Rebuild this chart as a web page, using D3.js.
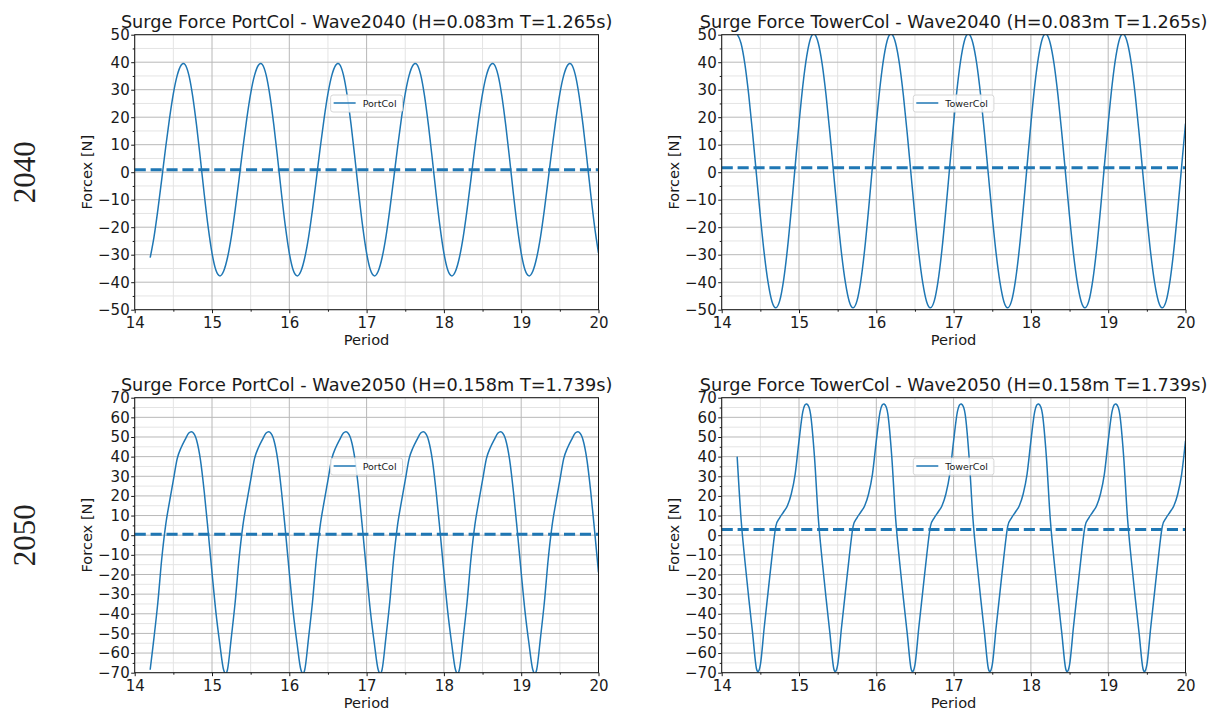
<!DOCTYPE html>
<html>
<head>
<meta charset="utf-8">
<script src="https://cdn.jsdelivr.net/npm/d3@7"></script>
<style>
  body { margin:0; background:#fff; }
  text { font-family:'DejaVu Sans', sans-serif; fill:#1a1a1a; }
  .tick line { stroke:#1a1a1a; }
</style>
</head>
<body>
<div id="canvas"></div>
<script>
// sample times (Period), shared by the four runs
var period = [
  14.2,14.25,14.3,14.35,14.4,14.45,14.5,14.55,14.6,14.65,14.7,14.75,14.8,14.85,14.9,14.95,15,15.05,15.1,15.15,
  15.2,15.25,15.3,15.35,15.4,15.45,15.5,15.55,15.6,15.65,15.7,15.75,15.8,15.85,15.9,15.95,16,16.05,16.1,16.15,
  16.2,16.25,16.3,16.35,16.4,16.45,16.5,16.55,16.6,16.65,16.7,16.75,16.8,16.85,16.9,16.95,17,17.05,17.1,17.15,
  17.2,17.25,17.3,17.35,17.4,17.45,17.5,17.55,17.6,17.65,17.7,17.75,17.8,17.85,17.9,17.95,18,18.05,18.1,18.15,
  18.2,18.25,18.3,18.35,18.4,18.45,18.5,18.55,18.6,18.65,18.7,18.75,18.8,18.85,18.9,18.95,19,19.05,19.1,19.15,
  19.2,19.25,19.3,19.35,19.4,19.45,19.5,19.55,19.6,19.65,19.7,19.75,19.8,19.85,19.9,19.95,20
];

// surge force [N]
var portCol2040 = [
  -31.1,-23.5,-13.6,-2.5,8.9,19.5,28.6,35.2,38.9,39.2,35.4,27.7,17.1,4.8,-8.1,-19.9,-29.4,-35.6,-37.7,-36.0,
  -31.1,-23.5,-13.6,-2.5,8.9,19.5,28.6,35.2,38.9,39.2,35.4,27.7,17.1,4.8,-8.1,-19.9,-29.4,-35.6,-37.7,-36.0,
  -31.1,-23.5,-13.6,-2.5,8.9,19.5,28.6,35.2,38.9,39.2,35.4,27.7,17.1,4.8,-8.1,-19.9,-29.4,-35.6,-37.7,-36.0,
  -31.1,-23.5,-13.6,-2.5,8.9,19.5,28.6,35.2,38.9,39.2,35.4,27.7,17.1,4.8,-8.1,-19.9,-29.4,-35.6,-37.7,-36.0,
  -31.1,-23.5,-13.6,-2.5,8.9,19.5,28.6,35.2,38.9,39.2,35.4,27.7,17.1,4.8,-8.1,-19.9,-29.4,-35.6,-37.7,-36.0,
  -31.1,-23.5,-13.6,-2.5,8.9,19.5,28.6,35.2,38.9,39.2,35.4,27.7,17.1,4.8,-8.1,-19.9,-29.4
];
var towerCol2040 = [
  50.2,46.9,39.3,28.0,14.1,-1.0,-16.0,-29.5,-40.1,-47.0,-49.3,-46.8,-39.4,-28.0,-13.6,2.1,17.7,31.6,42.2,48.7,
  50.2,46.9,39.3,28.0,14.1,-1.0,-16.0,-29.5,-40.1,-47.0,-49.3,-46.8,-39.4,-28.0,-13.6,2.1,17.7,31.6,42.2,48.7,
  50.2,46.9,39.3,28.0,14.1,-1.0,-16.0,-29.5,-40.1,-47.0,-49.3,-46.8,-39.4,-28.0,-13.6,2.1,17.7,31.6,42.2,48.7,
  50.2,46.9,39.3,28.0,14.1,-1.0,-16.0,-29.5,-40.1,-47.0,-49.3,-46.8,-39.4,-28.0,-13.6,2.1,17.7,31.6,42.2,48.7,
  50.2,46.9,39.3,28.0,14.1,-1.0,-16.0,-29.5,-40.1,-47.0,-49.3,-46.8,-39.4,-28.0,-13.6,2.1,17.7,31.6,42.2,48.7,
  50.2,46.9,39.3,28.0,14.1,-1.0,-16.0,-29.5,-40.1,-47.0,-49.3,-46.8,-39.4,-28.0,-13.6,2.1,17.7
];
var portCol2050 = [
  -68.5,-52,-34,-12,5,17,28,39,44.5,48.5,52,52.4,48.5,38.5,22,2,-19,-39,-55,-68.5,
  -68.5,-52,-34,-12,5,17,28,39,44.5,48.5,52,52.4,48.5,38.5,22,2,-19,-39,-55,-68.5,
  -68.5,-52,-34,-12,5,17,28,39,44.5,48.5,52,52.4,48.5,38.5,22,2,-19,-39,-55,-68.5,
  -68.5,-52,-34,-12,5,17,28,39,44.5,48.5,52,52.4,48.5,38.5,22,2,-19,-39,-55,-68.5,
  -68.5,-52,-34,-12,5,17,28,39,44.5,48.5,52,52.4,48.5,38.5,22,2,-19,-39,-55,-68.5,
  -68.5,-52,-34,-12,5,17,28,39,44.5,48.5,52,52.4,48.5,38.5,22,2,-19
];
var towerCol2050 = [
  40,8.5,-13,-32,-50,-68,-66,-47,-29,-11,4.5,8.8,11.8,15,21,31,48,63,66.8,61.5,
  40,8.5,-13,-32,-50,-68,-66,-47,-29,-11,4.5,8.8,11.8,15,21,31,48,63,66.8,61.5,
  40,8.5,-13,-32,-50,-68,-66,-47,-29,-11,4.5,8.8,11.8,15,21,31,48,63,66.8,61.5,
  40,8.5,-13,-32,-50,-68,-66,-47,-29,-11,4.5,8.8,11.8,15,21,31,48,63,66.8,61.5,
  40,8.5,-13,-32,-50,-68,-66,-47,-29,-11,4.5,8.8,11.8,15,21,31,48,63,66.8,61.5,
  40,8.5,-13,-32,-50,-68,-66,-47,-29,-11,4.5,8.8,11.8,15,21,31,48
];

// mean force of each run (dashed line)
var meanForce = [0.9, 1.6, 0.5, 2.9];

var titles = [
  'Surge Force PortCol - Wave2040 (H=0.083m T=1.265s)',
  'Surge Force TowerCol - Wave2040 (H=0.083m T=1.265s)',
  'Surge Force PortCol - Wave2050 (H=0.158m T=1.739s)',
  'Surge Force TowerCol - Wave2050 (H=0.158m T=1.739s)'
];
var legendNames = ['PortCol', 'TowerCol', 'PortCol', 'TowerCol'];
var rowLabels = ['2040', '2050'];

var xTicks = [14, 15, 16, 17, 18, 19, 20];
var xMinor = [14.5, 15.5, 16.5, 17.5, 18.5, 19.5];
var yTicks40 = [-50, -40, -30, -20, -10, 0, 10, 20, 30, 40, 50];
var yMinor40 = [-45, -35, -25, -15, -5, 5, 15, 25, 35, 45];
var yTicks50 = [-70, -60, -50, -40, -30, -20, -10, 0, 10, 20, 30, 40, 50, 60, 70];
var yMinor50 = [-65, -55, -45, -35, -25, -15, -5, 5, 15, 25, 35, 45, 55, 65];

var series = [portCol2040, towerCol2040, portCol2050, towerCol2050];

//layout of the 2x2 grid
var colX = [134.7, 721.7], plotW = 463.8;
var rowY = [34.7, 397.7], plotH = 275;
var blue = '#1f77b4';

var svg = d3.select('#canvas')
  .append('svg')
  .attr('width', 1218)
  .attr('height', 711);

// row labels on the far left
rowLabels.forEach(function(lab, r){
  svg.append('text')
    .attr('transform', 'translate(24,' + (rowY[r] + plotH / 2) + ') rotate(-90)')
    .attr('text-anchor', 'middle')
    .attr('dominant-baseline', 'central')
    .style('font-family', "'Liberation Serif', 'DejaVu Serif', serif")
    .style('font-size', '31px')
    .style('fill', '#222')
    .text(lab);
});

series.forEach(function(vals, i){
  var r = Math.floor(i / 2), c = i % 2;
  var yMax = r === 0 ? 50 : 70;
  var yTicks = r === 0 ? yTicks40 : yTicks50;
  var yMinor = r === 0 ? yMinor40 : yMinor50;

  var scaleX = d3.scaleLinear().domain([14, 20]).range([0, plotW]);
  var scaleY = d3.scaleLinear().domain([-yMax, yMax]).range([plotH, 0]);

  var plot = svg.append('g')
    .attr('transform', 'translate(' + colX[c] + ',' + rowY[r] + ')');

  plot.append('clipPath').attr('id', 'clip' + i)
    .append('rect').attr('width', plotW).attr('height', plotH);

  //grid, minor first
  plot.selectAll('.hminor').data(yMinor).enter().append('line')
    .attr('x1', 0).attr('x2', plotW)
    .attr('y1', function(d){ return scaleY(d); })
    .attr('y2', function(d){ return scaleY(d); })
    .style('stroke', '#e4e4e4').style('stroke-width', 1);
  plot.selectAll('.vminor').data(xMinor).enter().append('line')
    .attr('y1', 0).attr('y2', plotH)
    .attr('x1', function(d){ return scaleX(d); })
    .attr('x2', function(d){ return scaleX(d); })
    .style('stroke', '#e4e4e4').style('stroke-width', 1);
  plot.selectAll('.hmajor').data(yTicks).enter().append('line')
    .attr('x1', 0).attr('x2', plotW)
    .attr('y1', function(d){ return scaleY(d); })
    .attr('y2', function(d){ return scaleY(d); })
    .style('stroke', '#b8b8b8').style('stroke-width', 1);
  plot.selectAll('.vmajor').data(xTicks).enter().append('line')
    .attr('y1', 0).attr('y2', plotH)
    .attr('x1', function(d){ return scaleX(d); })
    .attr('x2', function(d){ return scaleX(d); })
    .style('stroke', '#b8b8b8').style('stroke-width', 1);

  //force line (uniform catmull-rom through the read points)
  var line = d3.line()
    .x(function(d, k){ return scaleX(period[k]); })
    .y(function(d){ return scaleY(d); })
    .curve(d3.curveCatmullRom.alpha(0));

  plot.append('path')
    .datum(vals)
    .attr('clip-path', 'url(#clip' + i + ')')
    .attr('d', line)
    .style('fill', 'none')
    .style('stroke', blue)
    .style('stroke-width', 1.5);

  //mean line
  plot.append('line')
    .attr('x1', scaleX(14)).attr('x2', scaleX(20))
    .attr('y1', scaleY(meanForce[i])).attr('y2', scaleY(meanForce[i]))
    .style('stroke', blue)
    .style('stroke-width', 3)
    .style('stroke-dasharray', '11.1,4.8');

  //axes
  var axisX = d3.axisBottom(scaleX).tickValues(xTicks).tickSize(3.5).tickPadding(4)
    .tickFormat(d3.format('d'));
  plot.append('g').attr('class', 'xAxis')
    .attr('transform', 'translate(0,' + plotH + ')')
    .call(axisX);
  plot.append('g')
    .attr('transform', 'translate(0,' + plotH + ')')
    .call(d3.axisBottom(scaleX).tickValues(xMinor).tickSize(2).tickFormat(''));

  var axisY = d3.axisLeft(scaleY).tickValues(yTicks).tickSize(3.5).tickPadding(1.5)
    .tickFormat(d3.format('d'));
  plot.append('g').attr('class', 'yAxis').call(axisY);
  plot.append('g')
    .call(d3.axisLeft(scaleY).tickValues(yMinor).tickSize(2).tickFormat(''));

  plot.selectAll('.domain').remove();
  plot.selectAll('.tick text')
    .style('font-family', "'DejaVu Sans', sans-serif")
    .style('font-size', '15px')
    .style('fill', '#1a1a1a');

  //frame
  plot.append('rect')
    .attr('width', plotW).attr('height', plotH)
    .style('fill', 'none').style('stroke', '#1a1a1a').style('stroke-width', 1);

  //legend
  var leg = plot.append('g');
  var legBox = leg.append('rect');
  var legText = leg.append('text')
    .attr('x', 32).attr('y', 8.5)
    .attr('dominant-baseline', 'central')
    .style('font-size', '9.5px')
    .text(legendNames[i]);
  var tw = legText.node().getComputedTextLength();
  var bw = 32 + tw + 6;
  legBox.attr('width', bw).attr('height', 17).attr('rx', 2.5)
    .style('fill', '#fff').style('fill-opacity', 0.85)
    .style('stroke', '#d6d6d6').style('stroke-width', 1);
  leg.append('line')
    .attr('x1', 3).attr('x2', 25).attr('y1', 8).attr('y2', 8)
    .style('stroke', blue).style('stroke-width', 1.5);
  leg.attr('transform', 'translate(' + (plotW / 2 - bw / 2) + ',60.3)');

  //title and labels
  plot.append('text')
    .attr('x', plotW / 2).attr('y', -6.5)
    .attr('text-anchor', 'middle')
    .style('font-size', '17.7px')
    .text(titles[i]);

  plot.append('text')
    .attr('x', plotW / 2).attr('y', plotH + 35)
    .attr('text-anchor', 'middle')
    .style('font-size', '14.6px')
    .text('Period');

  plot.append('text')
    .attr('transform', 'translate(-48,' + plotH / 2 + ') rotate(-90)')
    .attr('text-anchor', 'middle')
    .attr('dominant-baseline', 'central')
    .style('font-size', '14.6px')
    .text('Forcex [N]');
});
</script>
</body>
</html>
